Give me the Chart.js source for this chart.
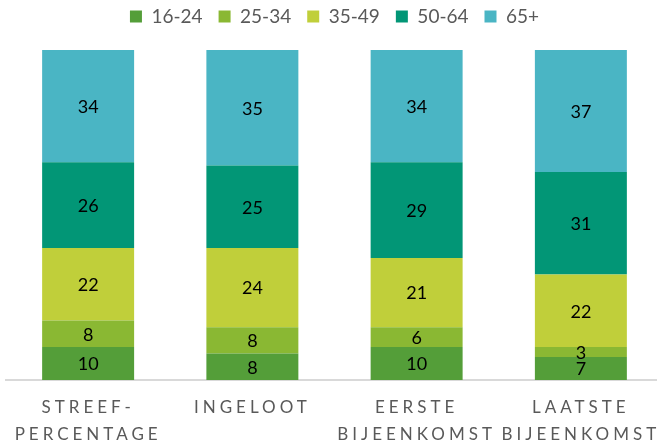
<!DOCTYPE html>
<html>
<head>
<meta charset="utf-8">
<script src="https://cdn.jsdelivr.net/npm/chart.js@4"></script>
<style>
  html, body { margin: 0; padding: 0; background: #fff; overflow: hidden; }
</style>
</head>
<body>
<canvas id="chart" width="664" height="447"></canvas>
<script>
const categories = [['STREEF-', 'PERCENTAGE'], ['INGELOOT'], ['EERSTE', 'BIJEENKOMST'], ['LAATSTE', 'BIJEENKOMST']];
const groups = ['16-24', '25-34', '35-49', '50-64', '65+'];
const age16to24 = [10, 8, 10, 7];
const age25to34 = [8, 8, 6, 3];
const age35to49 = [22, 24, 21, 22];
const age50to64 = [26, 25, 29, 31];
const age65plus = [34, 35, 34, 37];
const colors = ['#549E39', '#8AB833', '#C0CF3A', '#029676', '#4AB5C4'];

const seriesValues = [age16to24, age25to34, age35to49, age50to64, age65plus];

// legend height fixed so the plot starts where the original does
const legendHeight = {
  id: 'legendHeight',
  beforeInit(chart) {
    const fit = chart.legend.fit;
    chart.legend.fit = function () {
      fit.bind(chart.legend)();
      this.height = 59;
    };
  }
};

// letter-spaced category labels
const spacedTicks = {
  id: 'spacedTicks',
  beforeDraw(chart) {
    const x = chart.scales.x;
    if (x._spaced) return;
    const orig = x.drawLabels;
    x.drawLabels = function (area) {
      const ctx = this.ctx;
      ctx.save();
      ctx.letterSpacing = '4px';
      orig.call(this, area);
      ctx.restore();
    };
    x._spaced = true;
  }
};

// values inside each segment
const valueLabels = {
  id: 'valueLabels',
  afterDatasetsDraw(chart) {
    const ctx = chart.ctx;
    ctx.save();
    ctx.font = '18px Lato';
    ctx.fillStyle = '#000';
    ctx.textAlign = 'center';
    ctx.textBaseline = 'middle';
    chart.data.datasets.forEach((ds, i) => {
      chart.getDatasetMeta(i).data.forEach((bar, j) => {
        ctx.fillText(ds.data[j], bar.x, (bar.y + bar.base) / 2 + 1);
      });
    });
    ctx.restore();
  }
};

new Chart(document.getElementById('chart'), {
  type: 'bar',
  data: {
    labels: categories,
    datasets: groups.map((g, i) => ({
      label: g,
      data: seriesValues[i],
      backgroundColor: colors[i],
      borderWidth: 0,
      categoryPercentage: 1,
      barPercentage: 0.56
    }))
  },
  options: {
    responsive: false,
    animation: false,
    devicePixelRatio: 1,
    layout: { padding: { left: 6, right: 1, top: -9, bottom: 0 } },
    plugins: {
      tooltip: { enabled: false },
      legend: {
        position: 'top',
        labels: {
          boxWidth: 12,
          boxHeight: 12,
          padding: 16,
          color: '#595959',
          font: { family: 'Lato', size: 19 }
        }
      }
    },
    scales: {
      x: {
        stacked: true,
        grid: { display: false, drawTicks: false },
        border: { color: '#D9D9D9', width: 2 },
        afterFit(scale) { scale.height = 67; },
        ticks: {
          color: '#595959',
          padding: 14,
          maxRotation: 0,
          autoSkip: false,
          font: { family: 'Lato', size: 17, lineHeight: 27 / 17 }
        }
      },
      y: {
        stacked: true,
        display: false,
        min: 0,
        max: 100
      }
    }
  },
  plugins: [legendHeight, spacedTicks, valueLabels]
});
</script>
</body>
</html>
